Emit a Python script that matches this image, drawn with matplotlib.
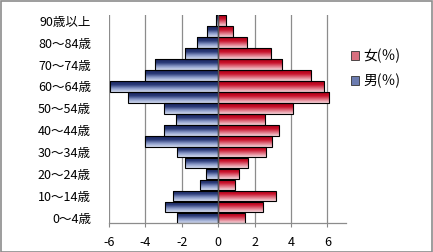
import numpy as np
import matplotlib
matplotlib.use("Agg")
import matplotlib.pyplot as plt
from matplotlib.patches import Rectangle, Patch
from matplotlib.colors import LinearSegmentedColormap

plt.rcParams['font.family'] = ['Noto Sans CJK JP', 'DejaVu Sans']

age_groups = ["0～4歳", "5～9歳", "10～14歳", "15～19歳", "20～24歳", "25～29歳",
              "30～34歳", "35～39歳", "40～44歳", "45～49歳", "50～54歳", "55～59歳",
              "60～64歳", "65～69歳", "70～74歳", "75～79歳", "80～84歳", "85～89歳",
              "90歳以上"]
male_pct = [-2.25, -2.91, -2.47, -0.98, -0.68, -1.8, -2.28, -4.0, -2.97, -2.3,
            -2.97, -4.95, -5.95, -4.0, -3.46, -1.8, -1.18, -0.64, -0.15]
female_pct = [1.45, 2.45, 3.17, 0.9, 1.12, 1.62, 2.61, 2.95, 3.33, 2.56,
              4.1, 6.1, 5.82, 5.1, 3.52, 2.89, 1.56, 0.79, 0.40]
x_ticks = [-6, -4, -2, 0, 2, 4, 6]
series_names = ["女(％)", "男(％)"]

W, H = 433, 252
fig = plt.figure(figsize=(W / 100, H / 100), dpi=100)
ax = fig.add_axes([109 / W, 1 - 223.3 / H, (345.7 - 109) / W, (223.3 - 15.3) / H])

blue_cmap = LinearSegmentedColormap.from_list("b", ["#d4dcf0", "#8a9ac8", "#2a3a78", "#1a2660"])
red_cmap = LinearSegmentedColormap.from_list("r", ["#f6d6dc", "#e07484", "#c8102a", "#a80018"])

y = np.arange(len(age_groups))
bh = 0.97
male_bars = ax.barh(y, male_pct, height=bh, color="none", edgecolor="black", linewidth=0.8, zorder=3)
female_bars = ax.barh(y, female_pct, height=bh, color="none", edgecolor="black", linewidth=0.8, zorder=3)

grad = np.linspace(0, 1, 64).reshape(-1, 1)
for bars, cmap in ((male_bars, blue_cmap), (female_bars, red_cmap)):
    for p in bars:
        x0, y0 = p.get_x(), p.get_y()
        w, h = p.get_width(), p.get_height()
        xa, xb = min(x0, x0 + w), max(x0, x0 + w)
        im = ax.imshow(grad, cmap=cmap, origin="lower", aspect="auto",
                       extent=(xa, xb, y0, y0 + h), zorder=2, interpolation="bilinear")
        im.set_clip_path(p)

ax.set_xlim(-6, 7)
ax.set_ylim(-0.5, len(age_groups) - 0.5)
ax.set_xticks(x_ticks)
ax.set_xticklabels([str(t) for t in x_ticks], fontsize=9)
ax.set_yticks(y[::2])
ax.set_yticklabels(age_groups[::2], fontsize=9)
ax.tick_params(axis="y", length=0, pad=13)
ax.tick_params(axis="x", length=3, color="#888888", pad=6)

for t in x_ticks:
    if t != 0:
        ax.axvline(t, color="#8c8c8c", linewidth=0.9, zorder=1)
ax.axvline(0, color="#555555", linewidth=1.0, zorder=4)

for s in ("top", "right", "left"):
    ax.spines[s].set_visible(False)
ax.spines["bottom"].set_color("#8c8c8c")
ax.spines["bottom"].set_linewidth(0.9)

handles = [Patch(facecolor="#d8707f", edgecolor="#333333", linewidth=0.6),
           Patch(facecolor="#6c7cb0", edgecolor="#333333", linewidth=0.6)]
fig.legend(handles, series_names, loc="upper left", bbox_to_anchor=(345 / W, 1 - 43 / H),
           frameon=False, fontsize=10, handlelength=0.6, handleheight=0.6,
           handletextpad=0.3, labelspacing=0.75, borderaxespad=0)

fig.add_artist(Rectangle((0.5 / W, 0.5 / H), 1 - 1.5 / W, 1 - 1.5 / H, transform=fig.transFigure,
                         fill=False, edgecolor="#8c8c8c", linewidth=1.2))

fig.savefig("out.png", dpi=100)
